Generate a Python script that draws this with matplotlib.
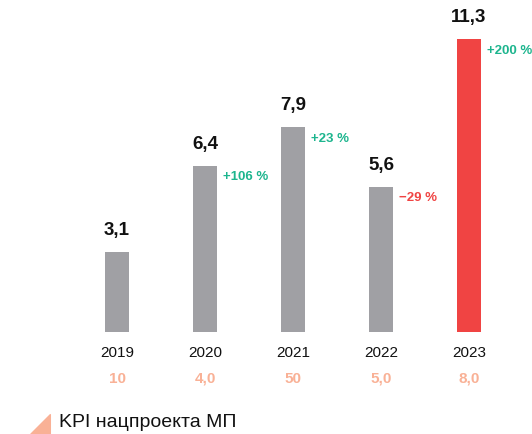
import matplotlib
matplotlib.use('Agg')
import matplotlib.pyplot as plt

plt.rcParams['font.family'] = ['Liberation Sans', 'DejaVu Sans']

years = ['2019', '2020', '2021', '2022', '2023']
values = [3.1, 6.4, 7.9, 5.6, 11.3]
value_labels = ['3,1', '6,4', '7,9', '5,6', '11,3']
changes = [None, '+106 %', '+23 %', '−29 %', '+200 %']
kpi = ['10', '4,0', '50', '5,0', '8,0']
legend_text = 'KPI нацпроекта МП'

gray = '#a0a0a4'
red = '#f04443'
green = '#1db58e'
orange = '#f9b196'

fig = plt.figure(figsize=(5.32, 4.34), dpi=100)
ax = fig.add_axes([0, 0, 1, 1])
ax.set_xlim(-1.33, 4.716)
ax.set_ylim(-3.94, 12.82)
ax.axis('off')

x = list(range(len(years)))
colors = [gray] * 4 + [red]
ax.bar(x, values, width=0.27, color=colors)

for i, v in enumerate(values):
    ax.text(i, v + 0.5, value_labels[i], ha='center', va='bottom',
            fontsize=13.5, fontweight='bold', color='#111111')
    if changes[i]:
        c = red if changes[i].startswith('−') else green
        ax.text(i + 0.205, v - 0.2, changes[i], ha='left', va='top',
                fontsize=9.5, fontweight='bold', color=c)
    ax.text(i, -0.8, years[i], ha='center', va='center',
            fontsize=11, color='#111111')
    ax.text(i, -1.8, kpi[i], ha='center', va='center',
            fontsize=11, fontweight='bold', color=orange)

ax.scatter([-0.87], [-3.55], marker=[(1, -1), (1, 1), (-1, -1)], s=200,
           color=orange, clip_on=False)
ax.text(-0.655, -3.5, legend_text, ha='left', va='center',
        fontsize=14, color='#111111')

fig.savefig('out.png', dpi=100)
